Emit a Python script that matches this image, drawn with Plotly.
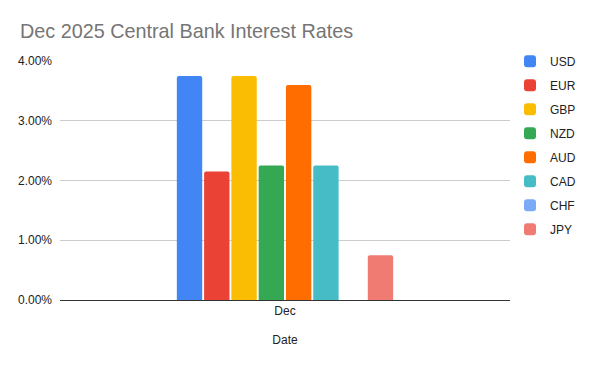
import plotly.graph_objects as go

categories = ["Dec"]
currencies = ["USD", "EUR", "GBP", "NZD", "AUD", "CAD", "CHF", "JPY"]
rates = [3.75, 2.15, 3.75, 2.25, 3.60, 2.25, 0.00, 0.75]
colors = ["#4285f4", "#ea4335", "#fbbc04", "#34a853", "#ff6d01", "#46bdc6", "#7baaf7", "#f07b72"]
y_ticks = [0, 1, 2, 3, 4]
y_labels = ["0.00%", "1.00%", "2.00%", "3.00%", "4.00%"]

fig = go.Figure()
for i, (cur, val, col) in enumerate(zip(currencies, rates, colors)):
    fig.add_trace(go.Bar(
        x=categories, y=[val], name=cur, marker_color=col,
        marker_line_width=0, legendgroup=cur,
    ))

fig.update_layout(
    width=594, height=371,
    margin=dict(l=60, r=84, t=61, b=71),
    paper_bgcolor="white", plot_bgcolor="white",
    font=dict(family="Liberation Sans, Arial, sans-serif", size=12, color="#222222"),
    title=dict(text="Dec 2025 Central Bank Interest Rates", x=20/594, xanchor="left",
               y=1 - 31/371, yanchor="middle",
               font=dict(size=19.8, color="#757575", family="Liberation Sans, Arial, sans-serif")),
    barmode="group", bargap=0.515, bargroupgap=0.07, barcornerradius=2,
    showlegend=True,
    legend=dict(x=1.0, xanchor="left", y=1.06, yanchor="top", tracegroupgap=5,
                traceorder="grouped", font=dict(size=12, color="#222222"),
                bgcolor="rgba(0,0,0,0)", maxheight=1),
    xaxis=dict(title=dict(text="Date", standoff=18, font=dict(size=12, color="#222222")),
               showgrid=False, showline=True, linecolor="#333333", linewidth=1,
               ticks="", tickfont=dict(size=12, color="#222222")),
    yaxis=dict(range=[0, 4], tickvals=y_ticks, ticktext=y_labels, showgrid=True,
               gridcolor="#cccccc", gridwidth=1, zeroline=True, zerolinecolor="#333333",
               zerolinewidth=1, ticks="", ticklabelstandoff=7,
               tickfont=dict(size=12, color="#222222")),
)

fig.write_html("out.html")
